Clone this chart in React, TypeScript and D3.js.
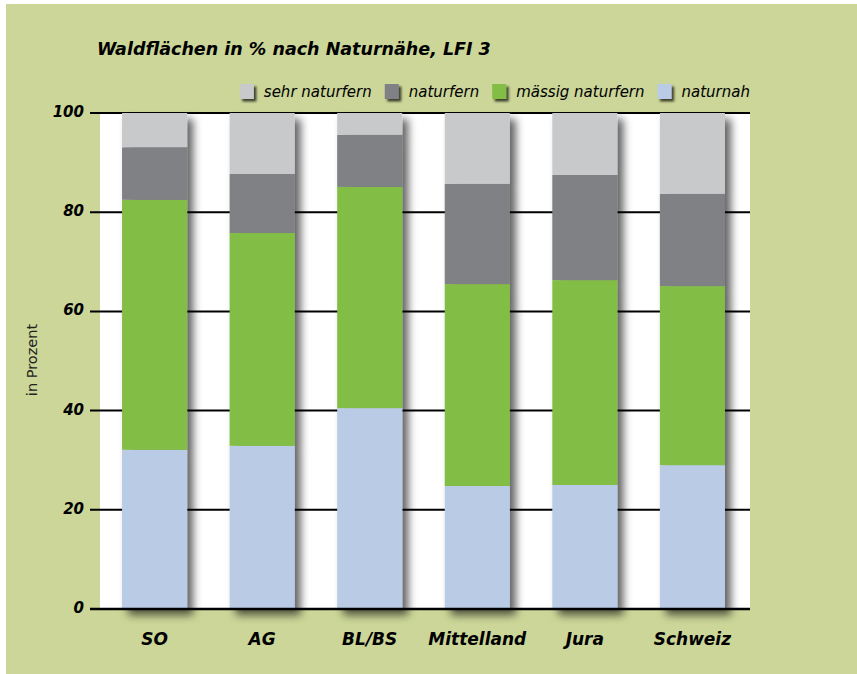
import { useEffect, useRef } from "react";
import * as d3 from "d3";

// categories and series (percent of forest area)
const categories = ["SO", "AG", "BL/BS", "Mittelland", "Jura", "Schweiz"];
const naturnah = [32.1, 32.9, 40.5, 24.8, 25.0, 29.0];
const maessigNaturfern = [50.4, 42.9, 44.6, 40.7, 41.3, 36.1];
const naturfern = [10.6, 11.9, 10.5, 20.2, 21.2, 18.6];
const sehrNaturfern = [6.9, 12.3, 4.4, 14.3, 12.5, 16.3];
const yTicks = [0, 20, 40, 60, 80, 100];

const seriesNames = ["naturnah", "mässig naturfern", "naturfern", "sehr naturfern"];
const seriesColors = ["#bacbe5", "#82bd44", "#808184", "#c8c9cb"];

const W = 857;
const H = 674;

export default function App() {
  const svgRef = useRef<SVGSVGElement>(null);

  useEffect(() => {
    if (!svgRef.current) return;
    const svg = d3.select(svgRef.current);
    svg.selectAll("*").remove();

    const font = "'DejaVu Sans', Verdana, sans-serif";
    const plot = { left: 100, right: 750, top: 113, bottom: 609 };

    // filters
    const defs = svg.append("defs");
    const barShadow = defs
      .append("filter")
      .attr("id", "barShadow")
      .attr("x", "-30%")
      .attr("y", "-10%")
      .attr("width", "170%")
      .attr("height", "120%");
    barShadow
      .append("feDropShadow")
      .attr("dx", 6)
      .attr("dy", 6)
      .attr("stdDeviation", 4)
      .attr("flood-color", "#000")
      .attr("flood-opacity", 0.62);

    const boxShadow = defs
      .append("filter")
      .attr("id", "boxShadow")
      .attr("x", "-50%")
      .attr("y", "-50%")
      .attr("width", "200%")
      .attr("height", "200%");
    boxShadow
      .append("feDropShadow")
      .attr("dx", 2.5)
      .attr("dy", 2.5)
      .attr("stdDeviation", 1.2)
      .attr("flood-color", "#000")
      .attr("flood-opacity", 0.7);

    // background
    svg
      .append("rect")
      .attr("x", 6)
      .attr("y", 4)
      .attr("width", W - 6)
      .attr("height", H - 4)
      .attr("fill", "#cbd698");

    svg
      .append("rect")
      .attr("x", plot.left)
      .attr("y", plot.top)
      .attr("width", plot.right - plot.left)
      .attr("height", plot.bottom - plot.top)
      .attr("fill", "#fff");

    // scales
    const x = d3
      .scaleBand()
      .domain(categories)
      .range([plot.left, 747])
      .paddingInner(0.395)
      .paddingOuter(0.205);

    const y = d3.scaleLinear().domain([0, 100]).range([plot.bottom, plot.top]);

    // grid lines
    svg
      .append("g")
      .selectAll("line")
      .data(yTicks.filter((t) => t > 0))
      .join("line")
      .attr("x1", 90)
      .attr("x2", plot.right)
      .attr("y1", (d) => y(d))
      .attr("y2", (d) => y(d))
      .attr("stroke", "#000")
      .attr("stroke-width", 2);

    // stacked bars
    const rows = categories.map((c, i) => ({
      cat: c,
      vals: [naturnah[i], maessigNaturfern[i], naturfern[i], sehrNaturfern[i]],
    }));

    const cols = svg
      .append("g")
      .selectAll("g")
      .data(rows)
      .join("g")
      .attr("filter", "url(#barShadow)");

    cols.each(function (d) {
      let acc = 0;
      const g = d3.select(this);
      d.vals.forEach((v, k) => {
        g.append("rect")
          .attr("x", x(d.cat)!)
          .attr("width", x.bandwidth())
          .attr("y", y(acc + v))
          .attr("height", y(acc) - y(acc + v))
          .attr("fill", seriesColors[k]);
        acc += v;
      });
    });

    // baseline
    svg
      .append("line")
      .attr("x1", 90)
      .attr("x2", plot.right)
      .attr("y1", y(0))
      .attr("y2", y(0))
      .attr("stroke", "#000")
      .attr("stroke-width", 2.5);

    // y tick labels
    svg
      .append("g")
      .selectAll("text")
      .data(yTicks)
      .join("text")
      .attr("x", 84)
      .attr("y", (d) => y(d) + 4)
      .attr("text-anchor", "end")
      .style("font-family", font)
      .style("font-size", "15px")
      .style("font-weight", "bold")
      .style("font-style", "italic")
      .text((d) => d);

    // category labels
    svg
      .append("g")
      .selectAll("text")
      .data(categories)
      .join("text")
      .attr("x", (d) => x(d)! + x.bandwidth() / 2)
      .attr("y", 645)
      .attr("text-anchor", "middle")
      .style("font-family", font)
      .style("font-size", "17px")
      .style("font-weight", "bold")
      .style("font-style", "italic")
      .text((d) => d);

    // y axis title
    svg
      .append("text")
      .attr("transform", `translate(37,360) rotate(-90)`)
      .attr("text-anchor", "middle")
      .style("font-family", font)
      .style("font-size", "14.5px")
      .style("fill", "#222")
      .text("in Prozent");

    // chart title
    svg
      .append("text")
      .attr("x", 97)
      .attr("y", 55)
      .style("font-family", font)
      .style("font-size", "17.5px")
      .style("font-weight", "bold")
      .style("font-style", "italic")
      .text("Waldflächen in % nach Naturnähe, LFI 3");

    // legend (right aligned to plot edge)
    const legend = svg.append("g");
    const order = [3, 2, 1, 0];
    let cx = 0;
    order.forEach((k) => {
      const item = legend.append("g").attr("transform", `translate(${cx},0)`);
      item
        .append("rect")
        .attr("x", 0)
        .attr("y", 84)
        .attr("width", 14)
        .attr("height", 15)
        .attr("fill", seriesColors[k])
        .attr("filter", "url(#boxShadow)");
      const t = item
        .append("text")
        .attr("x", 24)
        .attr("y", 97)
        .style("font-family", font)
        .style("font-size", "15px")
        .style("font-style", "italic")
        .text(seriesNames[k]);
      const tw = (t.node() as SVGTextElement).getComputedTextLength();
      cx += 24 + tw + 13;
    });
    const total = cx - 13;
    legend.attr("transform", `translate(${plot.right - total},0)`);
  }, []);

  return (
    <svg
      ref={svgRef}
      width={W}
      height={H}
      style={{ position: "absolute", left: 0, top: 0, display: "block" }}
    ></svg>
  );
}
